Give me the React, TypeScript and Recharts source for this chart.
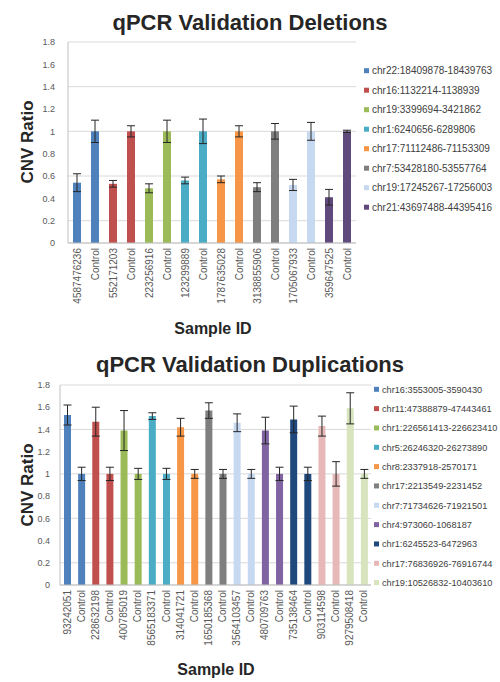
import React from "react";
import { Bar, BarChart, CartesianGrid, Cell, ErrorBar, XAxis, YAxis } from "recharts";

const FONT = "'Liberation Sans', Arial, sans-serif";

// deletions chart
const delSeries = [
  "chr22:18409878-18439763",
  "chr16:1132214-1138939",
  "chr19:3399694-3421862",
  "chr1:6240656-6289806",
  "chr17:71112486-71153309",
  "chr7:53428180-53557764",
  "chr19:17245267-17256003",
  "chr21:43697488-44395416",
];
const delSamples = ["4587476236", "552171203", "223256916", "123299889", "1787635028", "3138855906", "1705067933", "359647525"];
const delSampleRatio = [0.54, 0.53, 0.49, 0.56, 0.57, 0.5, 0.52, 0.41];
const delSampleErr = [0.08, 0.03, 0.04, 0.03, 0.03, 0.04, 0.05, 0.07];
const delControlRatio = [1, 1, 1, 1, 1, 1, 1, 1];
const delControlErr = [0.1, 0.05, 0.1, 0.11, 0.05, 0.07, 0.08, 0.01];
const delColors = ["#4F81BD", "#C0504D", "#9BBB59", "#4BACC6", "#F79646", "#7F7F7F", "#C6D9F1", "#604A7B"];

// duplications chart
const dupSeries = [
  "chr16:3553005-3590430",
  "chr11:47388879-47443461",
  "chr1:226561413-226623410",
  "chr5:26246320-26273890",
  "chr8:2337918-2570171",
  "chr17:2213549-2231452",
  "chr7:71734626-71921501",
  "chr4:973060-1068187",
  "chr1:6245523-6472963",
  "chr17:76836926-76916744",
  "chr19:10526832-10403610",
];
const dupSamples = ["93242051", "228632198", "400785019", "8565183371", "314041721", "1650185368", "3564103457", "480709763", "735138464", "903114598", "9279508418"];
const dupSampleRatio = [1.53, 1.47, 1.39, 1.52, 1.42, 1.57, 1.46, 1.39, 1.49, 1.43, 1.59];
const dupSampleErr = [0.09, 0.13, 0.18, 0.03, 0.08, 0.07, 0.08, 0.12, 0.12, 0.09, 0.14];
const dupControlRatio = [1, 1, 1, 1, 1, 1, 1, 1, 1, 1, 1];
const dupControlErr = [0.06, 0.06, 0.05, 0.05, 0.04, 0.04, 0.04, 0.06, 0.06, 0.11, 0.04];
const dupColors = ["#4F81BD", "#C0504D", "#9BBB59", "#4BACC6", "#F79646", "#7F7F7F", "#C6D9F1", "#8064A2", "#1F497D", "#E6B9B8", "#D7E4BD"];

const yTicks = [0, 0.2, 0.4, 0.6, 0.8, 1, 1.2, 1.4, 1.6, 1.8];

function buildRows(samples: string[], sr: number[], se: number[], cr: number[], ce: number[]) {
  const rows: { name: string; value: number; err: number; series: number }[] = [];
  samples.forEach((s, i) => {
    rows.push({ name: s, value: sr[i], err: se[i], series: i });
    rows.push({ name: "Control", value: cr[i], err: ce[i], series: i });
  });
  return rows;
}

const delRows = buildRows(delSamples, delSampleRatio, delSampleErr, delControlRatio, delControlErr);
const dupRows = buildRows(dupSamples, dupSampleRatio, dupSampleErr, dupControlRatio, dupControlErr);

function RotatedTick({ x, y, payload }: any) {
  return (
    <g transform={`translate(${x},${y})`}>
      <text transform="rotate(-90)" textAnchor="end" dy="0.35em" fontSize={10} fill="#595959" fontFamily={FONT}>
        {payload.value}
      </text>
    </g>
  );
}

function QpcrChart({ rows, colors, width, height, margin, yWidth, yGap, barSize }: any) {
  return (
    <BarChart width={width} height={height} data={rows} margin={margin}>
      <CartesianGrid vertical={false} stroke="#D9D9D9" />
      <XAxis
        dataKey="name"
        interval={0}
        height={97}
        tick={<RotatedTick />}
        tickLine={false}
        tickSize={4}
        tickMargin={1}
        axisLine={{ stroke: "#BFBFBF" }}
      />
      <YAxis
        width={yWidth}
        domain={[0, 1.8]}
        ticks={yTicks}
        tickLine={false}
        tickMargin={yGap}
        axisLine={{ stroke: "#BFBFBF" }}
        tick={{ fontSize: 9, fill: "#595959", fontFamily: FONT }}
      />
      <Bar dataKey="value" barSize={barSize} isAnimationActive={false}>
        {rows.map((r: any, i: number) => (
          <Cell key={i} fill={colors[r.series]} />
        ))}
        <ErrorBar dataKey="err" width={4} stroke="#262626" strokeWidth={1} isAnimationActive={false} />
      </Bar>
    </BarChart>
  );
}

function Legend2({ names, colors, x, y0, step, size }: any) {
  return (
    <g>
      {names.map((n: string, i: number) => (
        <g key={n}>
          <rect x={x} y={y0 + i * step - 2.5} width={5} height={5} fill={colors[i]} />
          <text x={x + 8} y={y0 + i * step + 3.5} fontSize={size} fill="#404040" fontFamily={FONT}>
            {n}
          </text>
        </g>
      ))}
    </g>
  );
}

export default function App() {
  return (
    <div style={{ position: "absolute", left: 0, top: 0, width: 500, height: 682, overflow: "hidden", background: "#fff" }}>
      <div style={{ position: "absolute", left: 0, top: 0 }}>
        <QpcrChart rows={delRows} colors={delColors} width={360} height={340}
          margin={{ top: 42, right: 4, bottom: 0, left: 0 }} yWidth={68} yGap={7} barSize={8} />
      </div>
      <div style={{ position: "absolute", left: 0, top: 340 }}>
        <QpcrChart rows={dupRows} colors={dupColors} width={380} height={342}
          margin={{ top: 45, right: 9, bottom: 0, left: 0 }} yWidth={60} yGap={4} barSize={7} />
      </div>
      <svg width={500} height={682} style={{ position: "absolute", left: 0, top: 0, pointerEvents: "none" }}>
        <g fontFamily={FONT} fontWeight="bold" fill="#262626">
          <text x={250} y={30} textAnchor="middle" fontSize={22}>qPCR Validation Deletions</text>
          <text x={250} y={372} textAnchor="middle" fontSize={22}>qPCR Validation Duplications</text>
          <text transform="translate(33,142) rotate(-90)" textAnchor="middle" fontSize={17}>CNV Ratio</text>
          <text transform="translate(33,485) rotate(-90)" textAnchor="middle" fontSize={17}>CNV Ratio</text>
          <text x={213} y={334} textAnchor="middle" fontSize={16}>Sample ID</text>
          <text x={216} y={675} textAnchor="middle" fontSize={16}>Sample ID</text>
        </g>
        <Legend2 names={delSeries} colors={delColors} x={364} y0={70.7} step={19.5} size={10} />
        <Legend2 names={dupSeries} colors={dupColors} x={374} y0={389.3} step={19.33} size={9.2} />
      </svg>
    </div>
  );
}
